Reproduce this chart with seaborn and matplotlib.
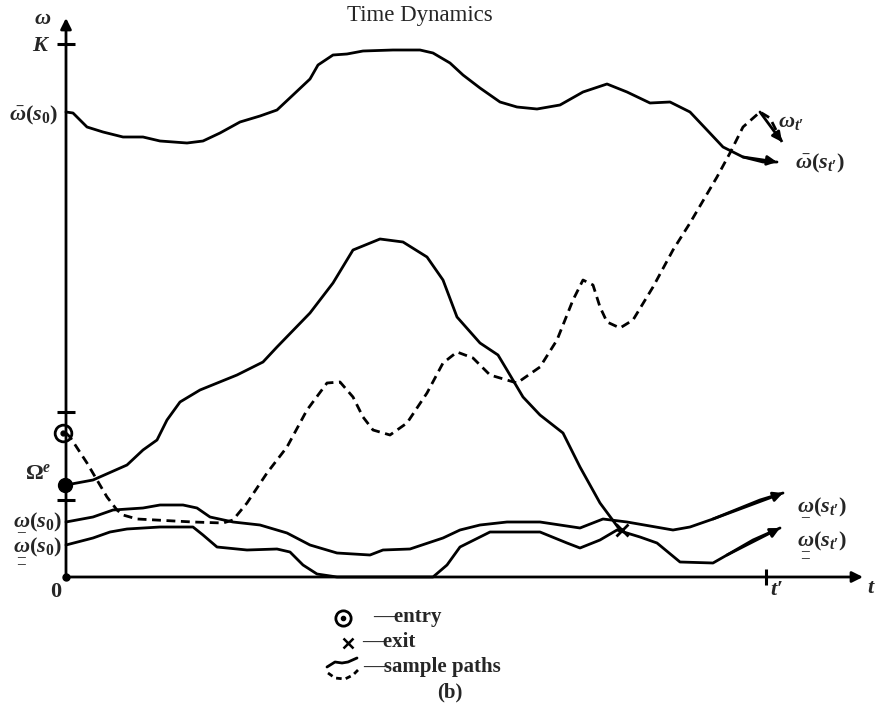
import matplotlib
matplotlib.use("Agg")
import matplotlib.pyplot as plt
import seaborn as sns

# =======================
# Data (time and omega in drawing units)
# =======================
t_prime = 700
K = 533
omega_e_low, omega_e_high = 77, 165
entry_point = (0, 144)
exit_point = (556, 47)
omega_e_start = (0, 92)

# upper bound path  omega-bar
bar_t = [0, 7, 21, 37, 57, 77, 94, 121, 137, 154, 174, 194, 211, 227, 244, 252, 267,
         281, 297, 327, 354, 367, 384, 397, 414, 434, 451, 471, 494, 517, 541, 561,
         584, 604, 624, 641, 657, 677, 697, 711]
bar_w = [465, 464, 450, 445, 440, 440, 436, 434, 436, 444, 455, 461, 467, 482, 498, 512, 522,
         523, 526, 527, 527, 524, 514, 502, 489, 475, 470, 468, 472, 485, 493, 485,
         474, 475, 465, 447, 430, 420, 415, 415]

# path that starts in Omega^e and exits at x
big_t = [0, 27, 61, 77, 91, 101, 114, 134, 171, 197, 211, 244, 267, 287, 314, 337, 361,
         377, 391, 414, 432, 441, 457, 474, 497, 514, 534, 554]
big_w = [92, 97, 112, 127, 137, 157, 175, 187, 202, 215, 230, 264, 294, 327, 338, 335, 320,
         297, 260, 234, 222, 207, 180, 162, 144, 110, 74, 47]

# lower bound path  omega (single underline)
low_t = [0, 27, 47, 77, 94, 117, 131, 144, 167, 194, 221, 244, 271, 304, 317, 344, 377,
         394, 414, 441, 474, 514, 537, 561, 607, 624, 647, 694, 717]
low_w = [55, 60, 67, 69, 72, 72, 69, 60, 55, 52, 44, 32, 24, 22, 27, 28, 39,
         47, 52, 55, 55, 49, 58, 55, 47, 50, 58, 77, 84]

# lowest path  omega (double underline)
low2_t = [0, 27, 44, 61, 94, 127, 137, 151, 161, 181, 211, 224, 237, 251, 271, 327, 367,
          381, 394, 424, 474, 501, 514, 534, 551, 574, 591, 614, 647, 661, 687, 714]
low2_w = [32, 39, 45, 48, 50, 50, 42, 30, 29, 27, 28, 25, 12, 3, 0, 0, 0,
          12, 30, 45, 45, 34, 29, 37, 47, 40, 34, 15, 14, 22, 37, 49]

# dashed sample path from entry to omega_t'
dash_t = [0, 4, 21, 41, 51, 57, 71, 127, 157, 167, 181, 201, 221, 241, 261, 274, 287,
          297, 307, 324, 341, 361, 377, 391, 407, 424, 451, 474, 491, 507, 517, 527,
          534, 541, 554, 567, 587, 607, 624, 651, 664, 677, 694, 704, 716]
dash_w = [144, 140, 114, 80, 67, 62, 58, 55, 54, 57, 74, 104, 130, 167, 194, 195, 180,
          160, 147, 142, 154, 184, 214, 225, 219, 202, 194, 210, 237, 277, 297, 292,
          270, 255, 249, 257, 290, 327, 354, 400, 424, 450, 465, 459, 435]

# legend squiggle
leg_solid_t = [261, 269, 276, 282, 291]
leg_solid_w = [-90, -85, -86, -85, -81]
leg_dash_t = [262, 269, 279, 287, 292]
leg_dash_w = [-96, -101, -102, -98, -93]

# =======================
# Style
# =======================
sns.set_theme(style="white")
plt.rcParams["font.family"] = ["Liberation Serif", "DejaVu Serif"]
plt.rcParams["mathtext.fontset"] = "custom"
plt.rcParams["mathtext.rm"] = "Liberation Serif:bold"
plt.rcParams["mathtext.it"] = "Liberation Serif:italic:bold"
plt.rcParams["mathtext.bf"] = "Liberation Serif:bold"

fig = plt.figure(figsize=(8.77, 7.12), dpi=100)
ax = fig.add_axes([0, 0, 1, 1])
ax.set_xlim(-66, 811)
ax.set_ylim(-135, 577)
ax.axis("off")

LW = 2.0
ink = "black"
smooth = dict(solid_joinstyle="round", solid_capstyle="round",
              dash_joinstyle="round", dash_capstyle="butt")


def draw(t, w, dashed=False, arrow=False):
    ls = (0, (3.2, 2.0)) if dashed else "-"
    sns.lineplot(x=t, y=w, sort=False, estimator=None, color=ink, lw=LW,
                 linestyle=ls, ax=ax, **smooth)
    if arrow:
        ax.annotate("", xy=(t[-1], w[-1]), xytext=(t[-3], w[-3]),
                    arrowprops=dict(arrowstyle="-|>", color=ink, lw=LW,
                                    mutation_scale=14, shrinkA=0, shrinkB=0))


draw(bar_t, bar_w, arrow=True)
draw(big_t, big_w)
draw(low_t, low_w, arrow=True)
draw(low2_t, low2_w, arrow=True)
draw(dash_t, dash_w, dashed=True, arrow=True)

# axes with arrows
ax.annotate("", xy=(797, 0), xytext=(0, 0),
            arrowprops=dict(arrowstyle="-|>", color=ink, lw=LW, mutation_scale=16,
                            shrinkA=0, shrinkB=0))
ax.annotate("", xy=(0, 559), xytext=(0, 0),
            arrowprops=dict(arrowstyle="-|>", color=ink, lw=LW, mutation_scale=16,
                            shrinkA=0, shrinkB=0))
ax.plot([0], [0], "o", color=ink, ms=5)

# ticks on axes
for yy in [K, omega_e_low, omega_e_high]:
    ax.plot([0], [yy], marker="_", ms=13, mew=2.2, color=ink)
ax.plot([t_prime], [0], marker="|", ms=12, mew=2.2, color=ink)

# entry / exit markers
ax.plot([entry_point[0] - 3], [entry_point[1]], "o", ms=12, mfc="none", mec=ink, mew=2)
ax.plot([entry_point[0] - 3], [entry_point[1]], "o", ms=3.5, color=ink)
ax.plot([omega_e_start[0] - 1], [omega_e_start[1]], "o", ms=10, color=ink)
ax.plot([exit_point[0]], [exit_point[1]], "x", ms=9, mew=2, color=ink)

# labels
fs = 16
P = "\u2032"
W1 = r"\underset{\_}{\omega}"
W2 = r"\underset{\_}{\underset{\_}{\omega}}"
ax.text(354, 556, "Time Dynamics", ha="center", va="baseline", fontsize=16.5)
ax.text(-23, 553, r"$\omega$", ha="center", va="baseline", fontsize=fs)
ax.text(-25, 526, r"$K$", ha="center", va="baseline", fontsize=fs)
ax.text(-8, 457, r"$\bar{\omega}(s_0)$", ha="right", va="baseline", fontsize=fs)
ax.text(-14, 98, r"$\Omega^e$", ha="right", va="baseline", fontsize=fs)
ax.text(-4, 50, "$" + W1 + "(s_0)$", ha="right", va="baseline", fontsize=fs)
ax.text(-4, 25, "$" + W2 + "(s_0)$", ha="right", va="baseline", fontsize=fs)
ax.text(-10, -20, "0", ha="center", va="baseline", fontsize=fs, fontweight="bold")
ax.text(805, -16, r"$t$", ha="center", va="baseline", fontsize=fs)
ax.text(710, -18, "$t" + P + "$", ha="center", va="baseline", fontsize=fs)
ax.text(729, 409, r"$\bar{\omega}(s_{t" + P + "})$", ha="left", va="baseline", fontsize=fs)
ax.text(712, 450, r"$\omega_{t" + P + "}$", ha="left", va="baseline", fontsize=fs)
ax.text(731, 65, "$" + W1 + "(s_{t" + P + "})$", ha="left", va="baseline", fontsize=fs)
ax.text(731, 31, "$" + W2 + "(s_{t" + P + "})$", ha="left", va="baseline", fontsize=fs)

# legend block
lfs = 15
ax.plot([277], [-41], "o", ms=11, mfc="none", mec=ink, mew=2)
ax.plot([277], [-41], "o", ms=3, color=ink)
ax.text(307, -45, "\u2014entry", ha="left", va="baseline", fontsize=lfs, fontweight="bold")
ax.plot([282], [-66], "x", ms=7, mew=1.8, color=ink)
ax.text(296, -70, "\u2014exit", ha="left", va="baseline", fontsize=lfs, fontweight="bold")
sns.lineplot(x=leg_solid_t, y=leg_solid_w, sort=False, estimator=None, color=ink, lw=LW,
             ax=ax, **smooth)
sns.lineplot(x=leg_dash_t, y=leg_dash_w, sort=False, estimator=None, color=ink, lw=LW,
             linestyle=(0, (2, 1.5)), ax=ax, **smooth)
ax.text(297, -95, "\u2014sample paths", ha="left", va="baseline", fontsize=lfs, fontweight="bold")
ax.text(384, -120, "(b)", ha="center", va="baseline", fontsize=lfs, fontweight="bold")

fig.savefig("out.png", dpi=100)
